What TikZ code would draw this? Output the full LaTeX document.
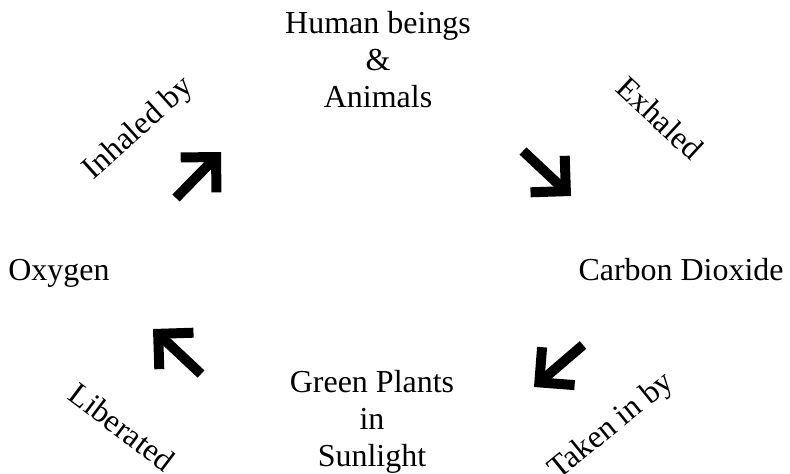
\documentclass[tikz,border=0pt]{standalone}
\usepackage{fontspec}
\setmainfont{Liberation Serif}
\usetikzlibrary{arrows.meta}

\begin{document}
\begin{tikzpicture}[
		x=0.02cm, y=-0.02cm,
		txt/.style={font=\fontsize{18.2}{21}\selectfont, inner sep=0pt},
		block/.style={txt, align=center},
		bigarrow/.style={line width=0.2cm, -{Straight Barb[length=0.5cm, width=1cm]}}
	]
	\useasboundingbox (0,0) rectangle (790,473);

	% the four stations of the cycle
	\node[block, anchor=north] (animals) at (378,11) {Human beings\\\&\\Animals};
	\node[block, anchor=north] (plants) at (372,370) {Green Plants\\in\\Sunlight};
	\node[txt, anchor=base west] (oxygen) at (8,280) {Oxygen};
	\node[txt, anchor=base east] (co2) at (784,280) {Carbon Dioxide};

	% slanted labels
	\node[txt, rotate=42] (inhaled) at (139,129) {Inhaled by};
	\node[txt, rotate=-43] (exhaled) at (660,118) {Exhaled};
	\node[txt, rotate=-37] (liberated) at (122,427) {Liberated};
	\node[txt, rotate=39] (taken) at (612,427) {Taken in by};

	% arrow ends
	\coordinate (a1) at (176,198); \coordinate (b1) at (221,152);
	\coordinate (a2) at (523,151); \coordinate (b2) at (571,196);
	\coordinate (a3) at (583,345); \coordinate (b3) at (534,387);
	\coordinate (a4) at (201,374); \coordinate (b4) at (153,329);

	\foreach \i/\j in {a1/b1, a2/b2, a3/b3, a4/b4}
		\draw[bigarrow] (\i) -- (\j);

\end{tikzpicture}
\end{document}
